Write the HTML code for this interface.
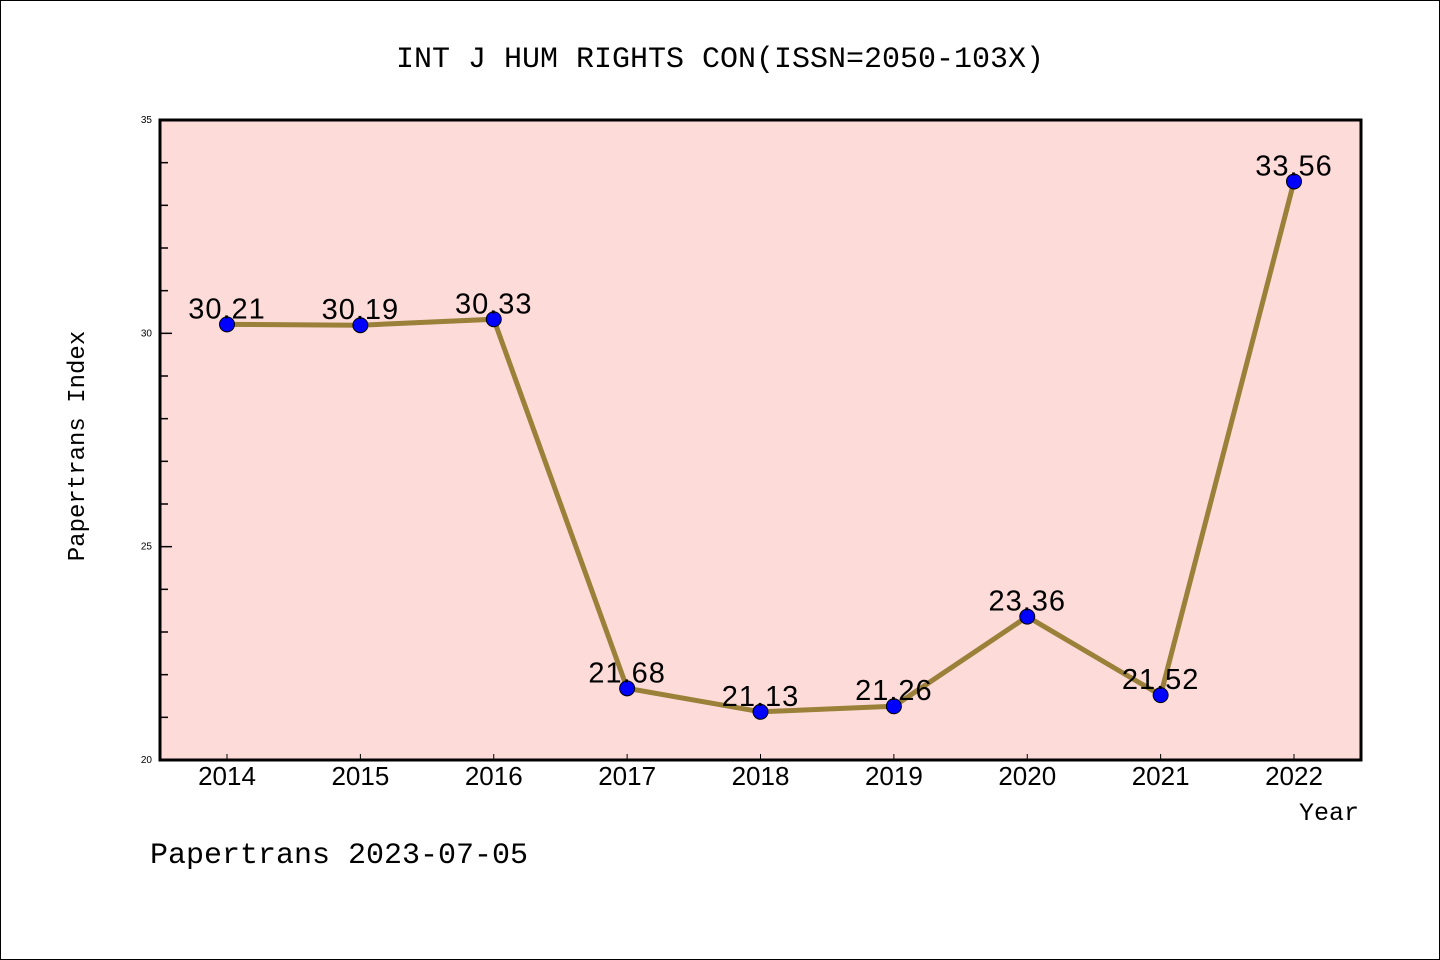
<!DOCTYPE html>
<html><head><meta charset="utf-8"><style>
body{margin:0;background:#fff}
svg{display:block;font-family:"Liberation Mono","DejaVu Sans Mono",monospace}
</style></head><body>
<svg id="chart" width="1440" height="960" xmlns="http://www.w3.org/2000/svg">
<rect x="0.5" y="0.5" width="1439" height="959" fill="#fff" stroke="#000" stroke-width="1"/>
<text x="720" y="67" font-size="30" text-anchor="middle">INT J HUM RIGHTS CON(ISSN=2050-103X)</text>
<rect x="160" y="120" width="1201" height="640" fill="#fddbd8"/>
<g id="ticks"></g>
<g id="series"></g>
<rect x="160" y="120" width="1201" height="640" fill="none" stroke="#000" stroke-width="3"/>
<text transform="translate(84,446) rotate(-90)" font-size="24" text-anchor="middle">Papertrans Index</text>
<text x="1359" y="820" font-size="25" text-anchor="end">Year</text>
<text x="150" y="863" font-size="30">Papertrans 2023-07-05</text>
</svg>
<script>
const years=["2014","2015","2016","2017","2018","2019","2020","2021","2022"];
const values=[30.21,30.19,30.33,21.68,21.13,21.26,23.36,21.52,33.56];
const yTicks=[20,25,30,35];
const NS="http://www.w3.org/2000/svg";
const x0=160,x1=1361,y0=120,y1=760,yMin=20,yMax=35;
function xs(i){return 227+i*(1294-227)/(years.length-1);}
function ys(v){return y1-(v-yMin)/(yMax-yMin)*(y1-y0);}
function mk(t,a,p){const e=document.createElementNS(NS,t);for(const k in a)e.setAttribute(k,a[k]);p.appendChild(e);return e;}
const tg=document.getElementById('ticks'),sg=document.getElementById('series');
for(let v=yMin;v<=yMax;v++){
  const major=yTicks.includes(v);
  const l=mk('line',{x1:x0,x2:x0+(major?12:8),y1:ys(v),y2:ys(v),stroke:'#000','stroke-width':1.5},tg);
  
  
}
yTicks.forEach(v=>{
  const t=mk('text',{x:x0-8,y:ys(v)+3,'font-size':10,'text-anchor':'end','font-family':'Liberation Sans, sans-serif'},tg);
  t.textContent=v;
  
  
});
years.forEach((y,i)=>{
  const l=mk('line',{x1:xs(i),x2:xs(i),y1:y1,y2:y1-6,stroke:'#000','stroke-width':1},tg);
  
  
  const t=mk('text',{x:xs(i),y:785,'font-size':26,'text-anchor':'middle','font-family':'Liberation Sans, sans-serif'},tg);
  t.textContent=y;
  
  
});
const pl=mk('polyline',{points:values.map((v,i)=>xs(i)+','+ys(v)).join(' '),fill:'none',stroke:'#9a8038','stroke-width':5},sg);


values.forEach((v,i)=>{
  const c=mk('circle',{cx:xs(i),cy:ys(v),r:7.5,fill:'#0000ff',stroke:'#000','stroke-width':1},sg);
  
  
  const t=mk('text',{x:xs(i),y:ys(v)-6,'font-size':29,'text-anchor':'middle','font-family':'Liberation Sans, sans-serif','letter-spacing':'1'},sg);
  t.textContent=v.toFixed(2);
  
  
});
</script>
</body></html>
